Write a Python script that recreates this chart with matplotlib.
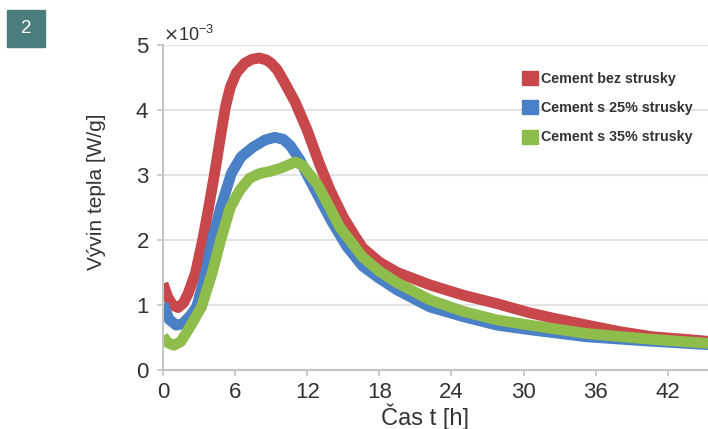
import matplotlib.pyplot as plt
from matplotlib.patches import Rectangle
from matplotlib.ticker import ScalarFormatter

plt.rcParams['font.family'] = ['Liberation Sans', 'DejaVu Sans']

# hodnoty v 10^-3 W/g
t_red = [0, 0.4, 0.8, 1.25, 1.7, 2.1, 2.7, 3.3, 3.8, 4.3, 4.75, 5.2, 5.6, 6.1, 6.8, 7.4, 8.0,
         8.6, 9.0, 9.5, 10.0, 11.0, 12.0, 13.0, 13.9, 15.0, 16.0, 16.6, 18.0, 19.5, 22.2,
         25.0, 27.8, 30.5, 32.4, 35.3, 38.0, 40.8, 43.6, 45.4]
v_red = [1.33, 1.12, 1.0, 0.96, 1.03, 1.18, 1.49, 2.0, 2.5, 3.03, 3.55, 4.05, 4.35, 4.57, 4.72,
         4.78, 4.8, 4.77, 4.72, 4.62, 4.46, 4.12, 3.69, 3.18, 2.77, 2.35, 2.05, 1.88, 1.66,
         1.5, 1.31, 1.15, 1.02, 0.88, 0.8, 0.69, 0.59, 0.51, 0.47, 0.44]

t_blue = [0, 0.5, 1.1, 1.6, 2.2, 2.8, 3.5, 4.1, 4.8, 5.7, 6.5, 7.5, 8.5, 9.3, 10.0, 10.6,
          11.4, 12.0, 13.0, 14.0, 15.3, 16.6, 18.0, 19.5, 22.2, 25.0, 27.8, 30.5, 35.3,
          40.8, 45.4]
v_blue = [1.02, 0.78, 0.69, 0.71, 0.82, 0.97, 1.45, 2.0, 2.5, 3.03, 3.28, 3.43, 3.54, 3.58,
          3.55, 3.45, 3.23, 3.0, 2.65, 2.3, 1.9, 1.6, 1.41, 1.23, 0.97, 0.82, 0.69, 0.62,
          0.51, 0.44, 0.39]

t_green = [0, 0.4, 0.9, 1.5, 2.2, 3.2, 4.1, 4.8, 5.6, 6.4, 7.2, 8.0, 9.0, 10.0, 11.0, 11.6,
           12.8, 13.9, 14.7, 16.6, 18.0, 19.5, 22.2, 25.0, 27.8, 30.5, 35.3, 40.8, 45.4]
v_green = [0.52, 0.42, 0.38, 0.44, 0.65, 0.97, 1.5, 2.0, 2.5, 2.77, 2.95, 3.02, 3.06, 3.12,
           3.2, 3.15, 2.87, 2.49, 2.2, 1.74, 1.52, 1.34, 1.08, 0.9, 0.77, 0.69, 0.56, 0.47, 0.41]

labels = ['Cement bez strusky', 'Cement s 25% strusky', 'Cement s 35% strusky']
colors = ['#c8474a', '#4a80c6', '#8fbd4b']
x_ticks = [0, 6, 12, 18, 24, 30, 36, 42]

fig = plt.figure(figsize=(7.08, 4.29), dpi=100)
ax = fig.add_axes([163 / 708, 1 - 370 / 429, 1 - 163 / 708, (370 - 45) / 429])

ax.plot(t_red, [v * 1e-3 for v in v_red], color=colors[0], lw=7.8, solid_capstyle='butt')
ax.plot(t_blue, [v * 1e-3 for v in v_blue], color=colors[1], lw=7.8, solid_capstyle='butt')
ax.plot(t_green, [v * 1e-3 for v in v_green], color=colors[2], lw=7.8, solid_capstyle='butt')

ax.set_xlim(0, 45.35)
ax.set_ylim(0, 5e-3)
ax.set_xticks(x_ticks)
ax.set_yticks([i * 1e-3 for i in range(6)])

fmt = ScalarFormatter(useMathText=True)
fmt.set_powerlimits((-2, 2))
ax.yaxis.set_major_formatter(fmt)
ax.yaxis.get_offset_text().set_fontsize(13)
ax.yaxis.get_offset_text().set_color('#333333')

ax.grid(axis='y', color='#e4e4e4', lw=1.5)
ax.set_axisbelow(True)
for s in ['top', 'right']:
    ax.spines[s].set_visible(False)
for s in ['left', 'bottom']:
    ax.spines[s].set_color('#c4c4c4')
    ax.spines[s].set_linewidth(1.5)
ax.tick_params(colors='#c4c4c4', labelcolor='#333333', labelsize=16, length=4, width=1.2, pad=6)
ax.tick_params(axis='x', pad=4.5)

ax.set_xlabel('Čas t [h]', fontsize=17, color='#333333')
ax.set_ylabel('Vývin tepla [W/g]', fontsize=15, color='#333333')
ax.xaxis.set_label_coords(0.48, -0.102)
ax.yaxis.set_label_coords(-0.105, 0.55)

handles = [Rectangle((0, 0), 1, 1, color=c) for c in colors]
fig.legend(handles, labels, loc='upper left', bbox_to_anchor=(522 / 708, 1 - 71 / 429),
           frameon=False, prop={'size': 10.3, 'weight': 'bold'}, labelcolor='#333333',
           handlelength=1.15, handleheight=1.15, handletextpad=0.2, labelspacing=1.0,
           borderpad=0, borderaxespad=0)

fig.patches.append(Rectangle((7 / 708, 1 - 47 / 429), 38 / 708, 37 / 429,
                             transform=fig.transFigure, color='#4a7d7b'))
fig.text(26 / 708, 1 - 28.5 / 429, '2', color='white', fontsize=13.5, ha='center', va='center')

fig.savefig('out.png', dpi=100)
